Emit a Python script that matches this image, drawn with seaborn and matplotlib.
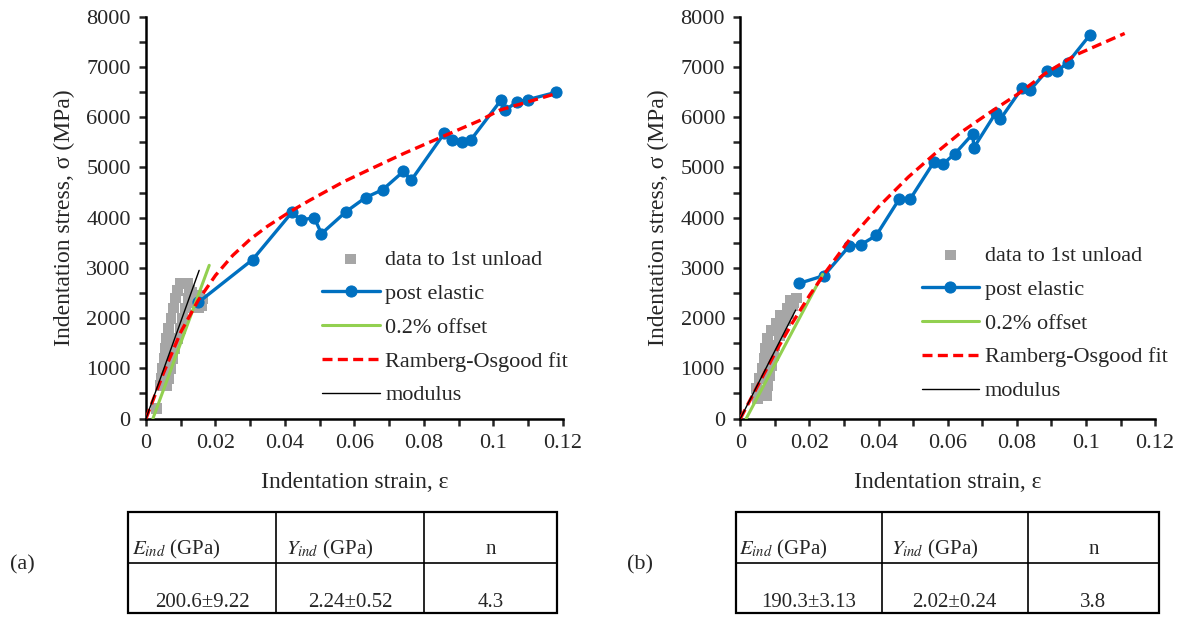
import matplotlib
matplotlib.use("Agg")
from matplotlib import pyplot as plt
from matplotlib.ticker import MultipleLocator, FuncFormatter
from matplotlib.patches import Rectangle
import seaborn as sns
import pandas as pd

# ---- (a) ----
unload_a_strain = [0.0031, 0.0042, 0.0060, 0.0045, 0.0066, 0.0048, 0.0070, 0.0052, 0.0076, 0.0056,
                   0.0082, 0.0060, 0.0090, 0.0066, 0.0098, 0.0072, 0.0106, 0.0078, 0.0114, 0.0084,
                   0.0122, 0.0092, 0.0126, 0.0100, 0.0120, 0.0130, 0.0138, 0.0146, 0.0152, 0.0160,
                   0.0163, 0.0155]
unload_a_stress = [200, 650, 650, 800, 800, 1000, 1000, 1200, 1200, 1400,
                   1400, 1600, 1600, 1800, 1800, 2000, 2000, 2200, 2200, 2400,
                   2400, 2550, 2550, 2680, 2680, 2500, 2380, 2300, 2200, 2250,
                   2380, 2450]

post_a_strain = [0.0151, 0.0307, 0.0420, 0.0446, 0.0484, 0.0505, 0.0576, 0.0632, 0.0681, 0.0741,
                 0.0763, 0.0859, 0.0881, 0.0909, 0.0934, 0.1023, 0.1034, 0.1067, 0.1100, 0.1180]
post_a_stress = [2314, 3165, 4105, 3950, 4000, 3680, 4120, 4400, 4555, 4921,
                 4741, 5686, 5539, 5506, 5539, 6351, 6138, 6304, 6351, 6495]

offset_a_strain = [0.0020, 0.0182]
offset_a_stress = [0, 3050]

ro_a_strain = [0.0, 0.0050, 0.0100, 0.0150, 0.0200, 0.0250, 0.0300, 0.0350, 0.0414, 0.0472,
               0.0568, 0.0650, 0.0741, 0.0851, 0.0962, 0.1017, 0.1181]
ro_a_stress = [0, 900, 1720, 2350, 2850, 3250, 3570, 3830, 4115, 4348,
               4712, 4980, 5274, 5606, 5938, 6138, 6471]

modulus_a_strain = [0.0, 0.0153]
modulus_a_stress = [0, 2950]

# ---- (b) ----
unload_b_strain = [0.0050, 0.0075, 0.0048, 0.0080, 0.0055, 0.0085, 0.0065, 0.0090, 0.0070, 0.0095,
                   0.0072, 0.0100, 0.0078, 0.0112, 0.0090, 0.0120, 0.0105, 0.0130, 0.0115, 0.0140,
                   0.0135, 0.0150, 0.0145, 0.0162, 0.0155]
unload_b_stress = [400, 450, 600, 650, 800, 850, 1000, 1050, 1200, 1250,
                   1400, 1450, 1600, 1650, 1750, 1800, 1900, 1950, 2050, 2100,
                   2200, 2250, 2350, 2400, 2300]

post_b_strain = [0.0171, 0.0242, 0.0314, 0.0348, 0.0393, 0.0459, 0.0492, 0.0560, 0.0585, 0.0621,
                 0.0673, 0.0675, 0.0739, 0.0752, 0.0816, 0.0838, 0.0887, 0.0917, 0.0947, 0.1011]
post_b_stress = [2693, 2846, 3425, 3458, 3644, 4362, 4376, 5107, 5061, 5273,
                 5672, 5387, 6085, 5958, 6590, 6537, 6923, 6923, 7082, 7634]

offset_b_strain = [0.0017, 0.0238]
offset_b_stress = [0, 2870]

ro_b_strain = [0.0, 0.0050, 0.0100, 0.0150, 0.0200, 0.0245, 0.0314, 0.0399, 0.0486, 0.0563,
               0.0640, 0.0717, 0.0805, 0.0882, 0.0969, 0.1112]
ro_b_stress = [0, 650, 1300, 1900, 2450, 2900, 3545, 4210, 4808, 5273,
               5706, 6071, 6470, 6869, 7235, 7667]

modulus_b_strain = [0.0, 0.0160]
modulus_b_stress = [0, 2160]

# ---- tables ----
table_headers = [r"$E_{ind}$ (GPa)", r"$Y_{ind}$ (GPa)", "n"]
table_a_values = ["200.6±9.22", "2.24±0.52", "4.3"]
table_b_values = ["190.3±3.13", "2.02±0.24", "3.8"]

GRAY = "#A6A6A6"
BLUE = "#0070C0"
GREEN = "#92D050"
RED = "#FF0000"

sns.set_style("ticks")
plt.rcParams["font.family"] = ["Liberation Serif", "DejaVu Serif"]
plt.rcParams["mathtext.fontset"] = "stix"


def draw_panel(ax, unload, post, offset, ro, modulus, legend_xy):
    sns.scatterplot(data=pd.DataFrame({"x": unload[0], "y": unload[1]}), x="x", y="y", ax=ax,
                    marker="s", s=62, color=GRAY, edgecolor="none", label="data to 1st unload",
                    zorder=2)
    sns.lineplot(data=pd.DataFrame({"x": post[0], "y": post[1]}), x="x", y="y", ax=ax, sort=False,
                 estimator=None, color=BLUE, lw=2.4, marker="o", markersize=8,
                 markeredgecolor=BLUE, label="post elastic", zorder=3)
    sns.lineplot(data=pd.DataFrame({"x": offset[0], "y": offset[1]}), x="x", y="y", ax=ax,
                 sort=False, estimator=None, color=GREEN, lw=2.2, label="0.2% offset", zorder=4)
    sns.lineplot(data=pd.DataFrame({"x": ro[0], "y": ro[1]}), x="x", y="y", ax=ax, sort=False,
                 estimator=None, color=RED, lw=2.4, linestyle=(0, (3, 1.6)),
                 label="Ramberg-Osgood fit", zorder=5)
    sns.lineplot(data=pd.DataFrame({"x": modulus[0], "y": modulus[1]}), x="x", y="y", ax=ax,
                 sort=False, estimator=None, color="black", lw=1.0, label="modulus", zorder=6)

    ax.set_xlim(0, 0.12)
    ax.set_ylim(0, 8000)
    ax.xaxis.set_major_locator(MultipleLocator(0.02))
    ax.xaxis.set_minor_locator(MultipleLocator(0.01))
    ax.yaxis.set_major_locator(MultipleLocator(1000))
    ax.yaxis.set_minor_locator(MultipleLocator(500))
    ax.xaxis.set_major_formatter(FuncFormatter(lambda v, p: f"{v:g}"))
    ax.tick_params(which="both", direction="out", length=5, width=1.8, labelsize=16, pad=6)
    for side in ("top", "right"):
        ax.spines[side].set_visible(False)
    for side in ("left", "bottom"):
        ax.spines[side].set_linewidth(1.8)
        ax.spines[side].set_color("black")
    ax.set_xlabel("Indentation strain, ε", fontsize=17, labelpad=14)
    ax.set_ylabel("Indentation stress, σ (MPa)", fontsize=17, labelpad=8)
    ax.legend(loc="lower left", bbox_to_anchor=legend_xy, frameon=False, fontsize=16,
              handlelength=2.6, handletextpad=0.25, labelspacing=0.6, borderaxespad=0.1)


def draw_table(rect, values):
    tax = fig.add_axes(rect)
    tax.set_xlim(0, 1)
    tax.set_ylim(0, 1)
    tax.axis("off")
    tax.add_patch(Rectangle((0, 0), 1, 1, fill=False, lw=1.6, edgecolor="black", clip_on=False))
    cols = [0.0, 0.345, 0.69, 1.0]
    for c in cols[1:-1]:
        tax.plot([c, c], [0, 1], color="black", lw=1.2, clip_on=False)
    tax.plot([0, 1], [0.49, 0.49], color="black", lw=1.2, clip_on=False)
    tax.text(0.008, 0.58, table_headers[0], fontsize=15, ha="left", va="baseline")
    tax.text(cols[1] + 0.022, 0.58, table_headers[1], fontsize=15, ha="left", va="baseline")
    tax.text((cols[2] + cols[3]) / 2, 0.58, table_headers[2], fontsize=15, ha="center",
             va="baseline")
    for i, v in enumerate(values):
        tax.text((cols[i] + cols[i + 1]) / 2, 0.06, v, fontsize=15, ha="center", va="baseline")


fig = plt.figure(figsize=(11.84, 6.17), dpi=100)
ax_a = fig.add_axes([0.1233, 0.3217, 0.3522, 0.6512])
ax_b = fig.add_axes([0.6253, 0.3217, 0.3503, 0.6512])

draw_panel(ax_a, (unload_a_strain, unload_a_stress), (post_a_strain, post_a_stress),
           (offset_a_strain, offset_a_stress), (ro_a_strain, ro_a_stress),
           (modulus_a_strain, modulus_a_stress), (0.395, 0.005))
draw_panel(ax_b, (unload_b_strain, unload_b_stress), (post_b_strain, post_b_stress),
           (offset_b_strain, offset_b_stress), (ro_b_strain, ro_b_stress),
           (modulus_b_strain, modulus_b_stress), (0.41, 0.015))

draw_table([0.1084, 0.0065, 0.3621, 0.1637], table_a_values)
draw_table([0.6214, 0.0065, 0.3575, 0.1637], table_b_values)

fig.text(22 / 1184, 1 - 565 / 617, "(a)", fontsize=16, ha="center", va="center")
fig.text(640 / 1184, 1 - 565 / 617, "(b)", fontsize=16, ha="center", va="center")

fig.savefig("out.png", dpi=100)
